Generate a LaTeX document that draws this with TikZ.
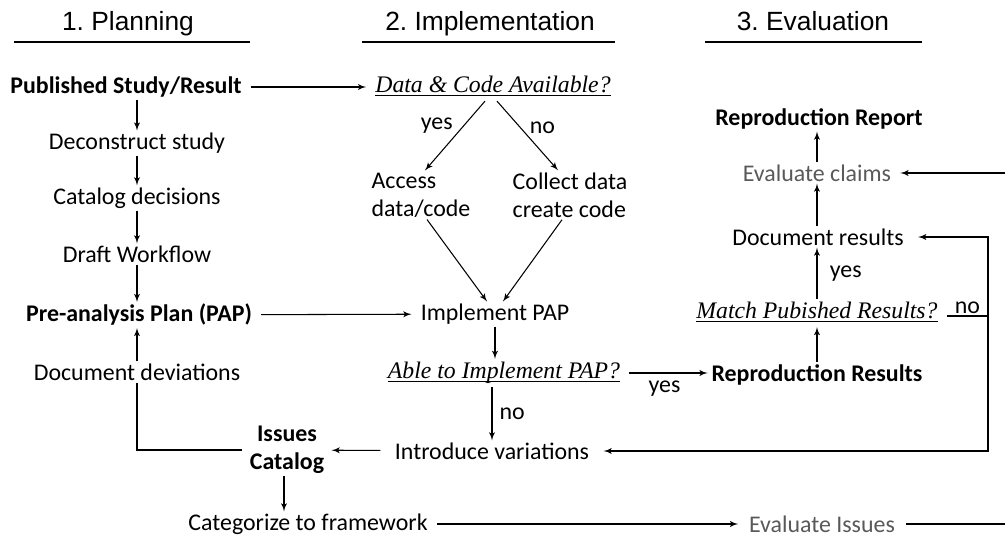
\documentclass[tikz,border=0pt]{standalone}
\usepackage{fontspec}
\setmainfont{Carlito}
\newfontfamily\headfont{Liberation Sans}
\newfontfamily\quesfont{Liberation Serif}
\usetikzlibrary{arrows}
\newcommand{\qline}[1]{\underline{\smash{#1}}}

\begin{document}
\begin{tikzpicture}[x=0.02cm,y=-0.02cm,line width=0.6pt]
  \tikzset{
    head/.style={font=\headfont\fontsize{15}{18}\selectfont, anchor=base},
    txt/.style={font=\fontsize{13.6}{16}\selectfont, inner xsep=5pt, inner ysep=1pt},
    key/.style={txt, font=\bfseries\fontsize{13.6}{16}\selectfont},
    ques/.style={font=\quesfont\itshape\fontsize{13.5}{16}\selectfont, inner xsep=5pt, inner ysep=1.5pt, text height=9.5pt, text depth=3pt},
    dim/.style={txt, text=black!65},
    lbl/.style={font=\fontsize{13.6}{16}\selectfont, inner sep=1pt},
    line/.style={draw, -latex'}
  }
  \useasboundingbox (0,0) rectangle (1005,544);
  % column heads
  \node [head] (plan) at (128,31) {1.\ Planning};
  \node [head] (impl) at (490,31) {2.\ Implementation};
  \node [head] (eval) at (813,31) {3.\ Evaluation};
  \draw (14,42) -- (250,42);
  \draw (362,42) -- (615,42);
  \draw (705,42) -- (922,42);

  % planning
  \node [key] (pub) at (126,87) {Published Study/Result};
  \node [txt] (decon) at (137,143) {Deconstruct study};
  \node [txt] (catdec) at (137,198) {Catalog decisions};
  \node [txt] (draft) at (137,254) {Draft Workflow};
  \node [key] (pap) at (139,315) {Pre-analysis Plan (PAP)};
  \node [txt] (devs) at (137,372) {Document deviations};
  \node [key, align=center, inner xsep=4pt] (issues) at (287,450) {Issues\\Catalog};
  \node [txt] (categ) at (308,524) {Categorize to framework};

  % implementation
  \node [ques] (avail) at (493,87) {\qline{Data \& Code Available?}};
  \node [txt, align=left] (access) at (421,195) {Access\\data/code};
  \node [txt, align=left] (collect) at (570,195) {Collect data\\create code};
  \node [txt] (implpap) at (495,314) {Implement PAP};
  \node [ques] (able) at (504,373) {\qline{Able to Implement PAP?}};
  \node [txt, inner xsep=8pt] (intro) at (492,451) {Introduce variations};

  % evaluation
  \node [key, inner xsep=2pt] (repres) at (817,375) {Reproduction Results};
  \node [ques] (match) at (817,313) {\qline{Match Pubished Results?}};
  \node [txt, inner xsep=8pt] (docres) at (818,237) {Document results};
  \node [dim] (claims) at (817,173) {Evaluate claims};
  \node [key] (report) at (819,119) {Reproduction Report};
  \node [dim, inner xsep=6pt] (evalis) at (822,524) {Evaluate Issues};
  \coordinate (noturn) at (988,316);
  \coordinate (edgeA) at (1005,173);
  \coordinate (edgeB) at (1005,524);

  \path [line] (pub.south -| decon) -- (decon);
  \path [line] (decon) -- (catdec);
  \path [line] (catdec) -- (draft);
  \path [line] (draft) -- (pap.north -| draft);
  \path [line] (devs) -- (pap.south -| devs);
  \draw (devs) |- (issues);
  \path [line] (pub) -- (avail);
  \path [line] (pap) -- (implpap);

  \path [line] ([xshift=-0.16cm]avail.south) -- node[above left, lbl]{yes} ([xshift=0.08cm]access.north);
  \path [line] ([xshift=0.08cm]avail.south) -- node[above right, lbl]{no} ([xshift=-0.24cm]collect.north);
  \path [line] ([xshift=0.12cm]access.south) -- ([xshift=-0.16cm]implpap.north);
  \path [line] ([xshift=-0.16cm]collect.south) -- ([xshift=0.16cm]implpap.north);
  \path [line] (implpap) -- (implpap |- able.north);
  \path [line] (able.south -| intro) -- node[right=3pt, lbl]{no} (intro);
  \path [line] (able.east) -- node[below=3pt, pos=0.45, lbl]{yes} (able.east -| repres.west);
  \path [line] (intro) -- (issues);
  \path [line] ([xshift=-0.06cm]issues.south) -- ([xshift=-0.06cm]issues.south |- categ.north);
  \path [line] (categ) -- (evalis);
  \draw (evalis) -- (edgeB);

  \path [line] (repres.north -| match) -- (match);
  \path [line] (match) -- node[right=6pt, lbl]{yes} (match |- docres.south);
  \path [line] (docres.north -| claims) -- (claims);
  \path [line] (claims) -- (claims |- report.south);
  \draw (match.east |- noturn) -- node[above, lbl]{no} (noturn);
  \path [line] (noturn) |- (docres.east);
  \path [line] (noturn) |- (intro.east);
  \path [line] (edgeA) -- (claims);
\end{tikzpicture}
\end{document}
